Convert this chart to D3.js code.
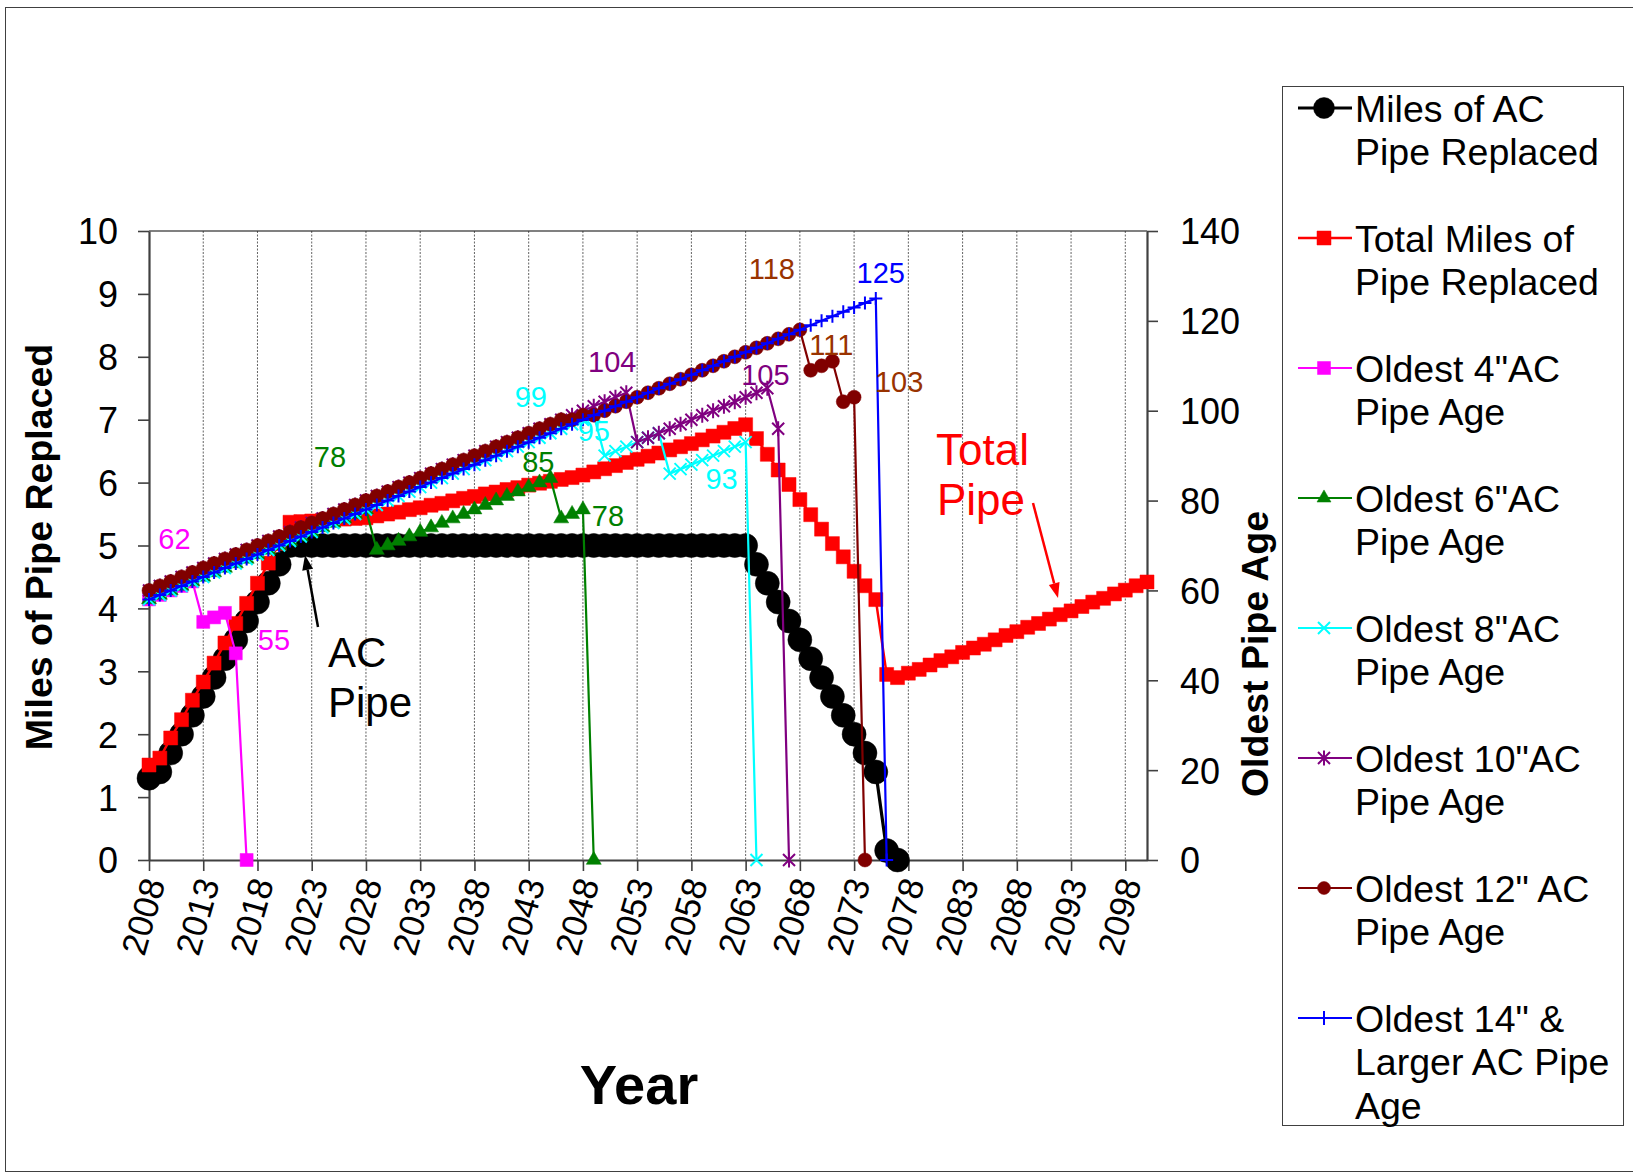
<!DOCTYPE html>
<html>
<head>
<meta charset="utf-8">
<script src="https://cdn.jsdelivr.net/npm/d3@7"></script>
<style>
  body { margin: 0; background: #fff; }
  svg { display: block; }
  text { font-family: Arial, "Liberation Sans", Helvetica, sans-serif; }
</style>
</head>
<body>
<svg id="chart" width="1633" height="1174"></svg>
<script>
// ---- data -------------------------------------------------------------
const years = d3.range(2008, 2101);            // one category per year
const yearTicks = [2008, 2013, 2018, 2023, 2028, 2033, 2038, 2043, 2048, 2053,
                   2058, 2063, 2068, 2073, 2078, 2083, 2088, 2093, 2098];
const milesTicks = [0, 1, 2, 3, 4, 5, 6, 7, 8, 9, 10];
const ageTicks = [0, 20, 40, 60, 80, 100, 120, 140];

// miles per year (left axis)
const acMiles = [
  1.3, 1.4, 1.7, 2.0, 2.3, 2.6, 2.9, 3.2, 3.5, 3.8, 4.1, 4.4, 4.7,
  5, 5, 5, 5, 5, 5, 5, 5, 5, 5,
  5, 5, 5, 5, 5, 5, 5, 5, 5, 5,
  5, 5, 5, 5, 5, 5, 5, 5, 5, 5,
  5, 5, 5, 5, 5, 5, 5, 5, 5, 5,
  5, 5, 5,
  4.7, 4.4, 4.1, 3.8, 3.5, 3.2, 2.9, 2.6, 2.3, 2.0, 1.7, 1.4, 0.15, 0,
  null, null, null, null, null, null, null, null, null, null, null, null,
  null, null, null, null, null, null, null, null, null, null, null
];
const totalMiles = [
  1.51, 1.62, 1.94, 2.23, 2.54, 2.83, 3.13, 3.45, 3.76, 4.08, 4.40, 4.72,
  5.03,
  5.37, 5.38, 5.39, 5.40, 5.41, 5.42, 5.43, 5.44, 5.47, 5.50,
  5.53, 5.57, 5.60, 5.64, 5.67, 5.71, 5.75, 5.78, 5.82, 5.85,
  5.89, 5.92, 5.96,
  5.99, 6.02, 6.05, 6.08, 6.12, 6.17, 6.22, 6.27, 6.32, 6.37,
  6.42, 6.47, 6.52, 6.57, 6.62, 6.68, 6.74, 6.80, 6.86, 6.92,
  6.70, 6.45, 6.20, 5.97, 5.73, 5.49, 5.26, 5.03, 4.82, 4.59, 4.36, 4.14,
  2.95, 2.90,
  2.97, 3.03, 3.10, 3.17, 3.23, 3.30, 3.37, 3.43, 3.50, 3.57,
  3.63, 3.70, 3.76, 3.83, 3.90, 3.96, 4.03, 4.10, 4.16, 4.23,
  4.29, 4.36, 4.42
];

// oldest pipe age per year (right axis)
const age4 = [
  58, 59, 60, 61, 62, 53, 54, 55, 46, 0,
  ...Array(83).fill(null)
];
const age6 = [
  58, 59, 60, 61, 62, 63, 64, 65, 66, 67, 68, 69, 70, 71, 72, 73, 74, 75, 76, 77, 78,
  69, 70, 71, 72, 73, 74, 75, 76, 77, 78, 79, 80, 81, 82, 83, 84, 85,
  76, 77, 78, 0,
  ...Array(51).fill(null)
];
const age8 = [
  58, 59, 60, 61, 62, 63, 64, 65, 66, 67, 68, 69, 70, 71, 72, 73, 74, 75, 76, 77,
  78, 79, 80, 81, 82, 83, 84, 85, 86, 87, 88, 89, 90, 91, 92, 93, 94, 95, 96, 97,
  98, 99,
  90, 91, 92, 93, 94, 95,
  86, 87, 88, 89, 90, 91, 92, 93,
  0,
  ...Array(36).fill(null)
];
const age10 = [
  60, 61, 62, 63, 64, 65, 66, 67, 68, 69, 70, 71, 72, 73, 74, 75, 76, 77, 78, 79,
  80, 81, 82, 83, 84, 85, 86, 87, 88, 89, 90, 91, 92, 93, 94, 95, 96, 97, 98, 99,
  100, 101, 102, 103, 104,
  93, 94, 95, 96, 97, 98, 99, 100, 101, 102, 103, 104, 105,
  96, 0,
  ...Array(33).fill(null)
];
const age12 = [
  60, 61, 62, 63, 64, 65, 66, 67, 68, 69, 70, 71, 72, 73, 74, 75, 76, 77, 78, 79,
  80, 81, 82, 83, 84, 85, 86, 87, 88, 89, 90, 91, 92, 93, 94, 95, 96, 97, 98,
  98, 99, 99, 100, 101, 102, 103, 104, 105, 106, 107, 108, 109, 110, 111, 112,
  113, 114, 115, 116, 117, 118,
  109, 110, 111, 102, 103, 0,
  ...Array(26).fill(null)
];
const age14 = [
  58, 59, 60, 61, 62, 63, 64, 65, 66, 67, 68, 69, 70, 71, 72, 73, 74, 75, 76, 77,
  78, 79, 80, 81, 82, 83, 84, 85, 86, 87, 88, 89, 90, 91, 92, 93, 94, 95, 96, 97,
  98, 99, 100, 101, 102, 103, 104, 105, 106, 107, 108, 109, 110, 111, 112, 113,
  114, 115, 116, 117, 118, 119, 120, 121, 122, 123, 124, 125,
  0,
  ...Array(24).fill(null)
];

// years whose value is written next to the point
const label4 = [2012, 2015];
const label6 = [2028, 2045, 2048];
const label8 = [2049, 2055, 2063];
const label10 = [2052, 2065];
const label12 = [2068, 2071, 2073];
const label14 = [2075];

// ---- layout -------------------------------------------------------------
const svg = d3.select("#chart");
const X0 = 149, X1 = 1147, Y0 = 860, Y1 = 231;

const x = d3.scalePoint().domain(years).range([X0, X1]);
const yL = d3.scaleLinear().domain([0, 10]).range([Y0, Y1]);
const yR = d3.scaleLinear().domain([0, 140]).range([Y0, Y1]);

// outer chart frame
svg.append("rect").attr("x", 5.5).attr("y", 7.5).attr("width", 1700).attr("height", 1164)
  .attr("fill", "none").attr("stroke", "#404040").attr("stroke-width", 1);

// plot area top edge
svg.append("line").attr("x1", X0).attr("x2", X1).attr("y1", Y1).attr("y2", Y1)
  .attr("stroke", "#808080").attr("stroke-width", 2);

// vertical dotted gridlines every five years
svg.append("g").selectAll("line").data(yearTicks.slice(1)).join("line")
  .attr("x1", d => x(d)).attr("x2", d => x(d))
  .attr("y1", Y1).attr("y2", Y0)
  .attr("stroke", "#222").attr("stroke-width", 1)
  .attr("stroke-dasharray", "2,1.5").attr("opacity", 0.7);

// axes
function styleAxis(g) {
  g.select(".domain").attr("stroke", "#404040").attr("stroke-width", 2.2);
  g.selectAll(".tick line").attr("stroke", "#404040").attr("stroke-width", 1.6);
  g.selectAll(".tick text").attr("font-size", 36).attr("fill", "#000");
}
svg.append("g").attr("transform", `translate(${X0},0)`)
  .call(d3.axisLeft(yL).tickValues(milesTicks).tickSize(11).tickPadding(20).tickSizeOuter(0))
  .call(styleAxis).call(g => g.selectAll(".tick text").attr("dy", "0.36em"));

svg.append("g").attr("transform", `translate(${X1},0)`)
  .call(d3.axisRight(yR).tickValues(ageTicks).tickSize(11).tickPadding(22).tickSizeOuter(0))
  .call(styleAxis).call(g => g.selectAll(".tick text").attr("dy", "0.36em"));

const xAxisG = svg.append("g").attr("transform", `translate(0,${Y0})`)
  .call(d3.axisBottom(x).tickValues(yearTicks).tickSize(11).tickSizeOuter(0))
  .call(styleAxis);
xAxisG.selectAll(".tick text")
  .attr("font-size", 35)
  .attr("text-anchor", "end")
  .attr("y", 0).attr("dy", "0.36em")
  .attr("transform", "translate(4,19) rotate(-74)");

// axis titles
svg.append("text").attr("transform", "translate(38,547) rotate(-90)")
  .attr("text-anchor", "middle").attr("dy", "0.36em")
  .attr("font-size", 37.5).attr("font-weight", "bold").text("Miles of Pipe Replaced");
svg.append("text").attr("transform", "translate(1254,654) rotate(-90)")
  .attr("text-anchor", "middle").attr("dy", "0.36em")
  .attr("font-size", 37.5).attr("font-weight", "bold").text("Oldest Pipe Age");
svg.append("text").attr("x", 639).attr("y", 1104)
  .attr("text-anchor", "middle")
  .attr("font-size", 56).attr("font-weight", "bold").text("Year");

// ---- markers ---------------------------------------------------------------
function markerPath(type, s) {
  switch (type) {
    case "circle":   return d3.symbol(d3.symbolCircle, Math.PI * s * s)();
    case "square":   return d3.symbol(d3.symbolSquare, s * s)();
    case "triangle": return d3.symbol(d3.symbolTriangle, s * s * Math.sqrt(3) / 4)();
    case "x":        return `M${-s},${-s}L${s},${s}M${-s},${s}L${s},${-s}`;
    case "star":     return `M${-s},${-s}L${s},${s}M${-s},${s}L${s},${-s}M0,${-s * 1.25}L0,${s * 1.25}`;
    case "plus":     return `M${-s},0L${s},0M0,${-s}L0,${s}`;
  }
}
const strokeOnly = t => t === "x" || t === "star" || t === "plus";

const series = [
  { name: ["Miles of AC", "Pipe Replaced"], values: acMiles, axis: yL, color: "#000000",
    marker: "circle", size: 12, width: 3.2, lw: 3.2, lsize: 10.5 },
  { name: ["Total Miles of", "Pipe Replaced"], values: totalMiles, axis: yL, color: "#FF0000",
    marker: "square", size: 14, width: 2.5, lw: 2.5, lsize: 14 },
  { name: ["Oldest 4\"AC", "Pipe Age"], values: age4, axis: yR, color: "#FF00FF",
    marker: "square", size: 13, width: 2.2, lw: 2.2, lsize: 13, labels: label4, labelColor: "#FF00FF",
    offsets: [[-18, -43], [49, 27]] },
  { name: ["Oldest 6\"AC", "Pipe Age"], values: age6, axis: yR, color: "#008000",
    marker: "triangle", size: 15, width: 2.2, lw: 2.2, lsize: 14, labels: label6, labelColor: "#008000",
    offsets: [[-36, -53], [-12, -17], [25, 6]] },
  { name: ["Oldest 8\"AC", "Pipe Age"], values: age8, axis: yR, color: "#00FFFF",
    marker: "x", size: 6, width: 2.2, lw: 2.2, lsize: 6, labels: label8, labelColor: "#00FFFF",
    offsets: [[-63, -19], [-65, -3], [-24, 36]] },
  { name: ["Oldest 10\"AC", "Pipe Age"], values: age10, axis: yR, color: "#800080",
    marker: "star", size: 6, width: 2.2, lw: 2.2, lsize: 6, labels: label10, labelColor: "#800080",
    offsets: [[-14, -31], [-2, -14]] },
  { name: ["Oldest 12\" AC", "Pipe Age"], values: age12, axis: yR, color: "#800000",
    marker: "circle", size: 7, width: 2.2, lw: 2.2, lsize: 6.5, labels: label12, labelColor: "#993300",
    offsets: [[-28, -61], [-1, -17], [45, -16]] },
  { name: ["Oldest 14\" &", "Larger AC Pipe", "Age"], values: age14, axis: yR, color: "#0000FF",
    marker: "plus", size: 6.5, width: 2.2, lw: 2.2, lsize: 7, labels: label14, labelColor: "#0000FF",
    offsets: [[5, -26]] }
];

const plot = svg.append("g");
series.forEach(s => {
  const pts = years.map((yr, i) => ({ yr, v: s.values[i] }));
  const line = d3.line().defined(d => d.v !== null && d.v !== undefined)
    .x(d => x(d.yr)).y(d => s.axis(d.v));
  const g = plot.append("g");
  g.append("path").attr("d", line(pts)).attr("fill", "none")
    .attr("stroke", s.color).attr("stroke-width", s.width).attr("stroke-linejoin", "round");
  const mp = markerPath(s.marker, s.size);
  g.selectAll("path.m").data(pts.filter(d => d.v !== null && d.v !== undefined)).join("path")
    .attr("class", "m")
    .attr("d", mp)
    .attr("transform", d => `translate(${x(d.yr)},${s.axis(d.v)})`)
    .attr("fill", strokeOnly(s.marker) ? "none" : s.color)
    .attr("stroke", s.color)
    .attr("stroke-width", strokeOnly(s.marker) ? 2 : 0.5);
});

// value labels on selected points
const labelLayer = svg.append("g");
series.filter(s => s.labels).forEach(s => {
  s.labels.forEach((yr, k) => {
    const v = s.values[yr - 2008];
    labelLayer.append("text")
      .attr("x", x(yr) + s.offsets[k][0]).attr("y", s.axis(v) + s.offsets[k][1])
      .attr("text-anchor", "middle").attr("dy", "0.36em")
      .attr("font-size", 29).attr("fill", s.labelColor).text(v);
  });
});

// annotations with arrows
function arrow(x1, y1, x2, y2, color) {
  const ang = Math.atan2(y2 - y1, x2 - x1);
  const L = 15, Wd = 5.5;
  const bx = x2 - L * Math.cos(ang), by = y2 - L * Math.sin(ang);
  svg.append("line").attr("x1", x1).attr("y1", y1).attr("x2", bx).attr("y2", by)
    .attr("stroke", color).attr("stroke-width", 2.5);
  svg.append("path")
    .attr("d", `M${x2},${y2}L${bx + Wd * Math.sin(ang)},${by - Wd * Math.cos(ang)}L${bx - Wd * Math.sin(ang)},${by + Wd * Math.cos(ang)}Z`)
    .attr("fill", color);
}
const notes = svg.append("g");
notes.append("text").attr("x", 328).attr("y", 667).attr("font-size", 42).attr("fill", "#000").text("AC");
notes.append("text").attr("x", 328).attr("y", 717).attr("font-size", 42).attr("fill", "#000").text("Pipe");
notes.append("text").attr("x", 936).attr("y", 465).attr("font-size", 44).attr("fill", "#FF0000").text("Total");
notes.append("text").attr("x", 937).attr("y", 515).attr("font-size", 44).attr("fill", "#FF0000").text("Pipe");
arrow(318, 627, 305, 555, "#000");
arrow(1033, 503, 1058, 598, "#FF0000");

// ---- legend ----------------------------------------------------------------
const legend = svg.append("g");
legend.append("rect").attr("x", 1282.5).attr("y", 86.5).attr("width", 341).attr("height", 1039)
  .attr("fill", "#fff").attr("stroke", "#404040").attr("stroke-width", 1);
series.forEach((s, i) => {
  const y0 = 108 + i * 130;
  const g = legend.append("g");
  g.append("line").attr("x1", 1298).attr("x2", 1352).attr("y1", y0).attr("y2", y0)
    .attr("stroke", s.color).attr("stroke-width", s.lw);
  g.append("path").attr("d", markerPath(s.marker, s.lsize))
    .attr("transform", `translate(1324,${y0})`)
    .attr("fill", strokeOnly(s.marker) ? "none" : s.color)
    .attr("stroke", s.color).attr("stroke-width", strokeOnly(s.marker) ? 2 : 0.5);
  s.name.forEach((t, j) => {
    g.append("text").attr("x", 1355).attr("y", y0 + j * 43.5).attr("dy", "0.36em")
      .attr("font-size", 37.5).attr("fill", "#000").text(t);
  });
});
</script>
</body>
</html>
